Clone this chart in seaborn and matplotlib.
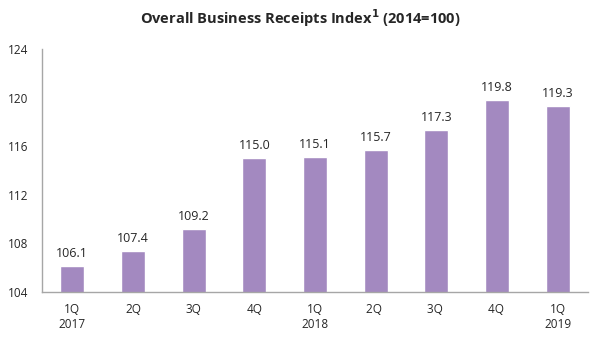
import numpy as np
import pandas as pd
import matplotlib
matplotlib.use("Agg")
import matplotlib.pyplot as plt
import seaborn as sns

# Datos
trimestres = ["1Q\n2017", "2Q", "3Q", "4Q", "1Q\n2018", "2Q ", "3Q ", "4Q ", "1Q\n2019"]
indice = [106.1, 107.4, 109.2, 115.0, 115.1, 115.7, 117.3, 119.8, 119.3]
yticks = [104, 108, 112, 116, 120, 124]

sns.set_style("white")
plt.rcParams['font.family'] = ['Open Sans', 'DejaVu Sans']

df = pd.DataFrame({"trimestre": trimestres, "indice": indice})

fig = plt.figure(figsize=(6, 3.6), dpi=100)
ax = fig.add_axes([0.07, 0.189, 0.91, 0.675])

color_gris = "#a6a6a6"
sns.barplot(data=df, x="trimestre", y="indice", color="#a389c0",
            saturation=1, width=0.4, ax=ax)

ax.set_ylim(104, 124)
ax.set_xlim(-0.5, len(trimestres) - 0.5)
ax.set_yticks(yticks)
ax.set_yticklabels([str(v) for v in yticks], fontsize=8.5)
ax.set_xlabel("")
ax.set_ylabel("")
ax.tick_params(axis="x", which="major", length=0, labelsize=8.5, pad=8)
ax.set_xticks(np.arange(-0.5, len(trimestres)), minor=True)
ax.tick_params(axis="x", which="minor", length=4, color=color_gris, width=1)
ax.tick_params(axis="y", length=4, color=color_gris, width=1, pad=6)

for lado in ["top", "right"]:
    ax.spines[lado].set_visible(False)
for lado in ["left", "bottom"]:
    ax.spines[lado].set_color(color_gris)
    ax.spines[lado].set_linewidth(1)

for i, v in enumerate(indice):
    ax.text(i, v + 0.5, f"{v:.1f}", ha="center", va="bottom", fontsize=9)

fig.text(0.5, 0.95, r"Overall Business Receipts Index$^{\mathbf{1}}$ (2014=100)",
         ha="center", va="center", fontsize=10.5, fontweight="bold")

fig.savefig("out.png", dpi=100)
